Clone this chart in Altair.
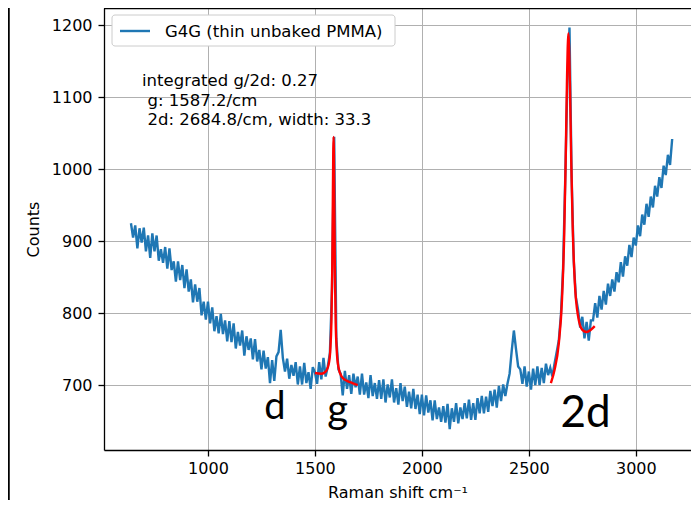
import altair as alt
import pandas as pd

# ---------------- data ----------------
shift = list(range(640, 3171, 10))  # Raman shift (cm^-1) sample positions
counts = [
    925, 905, 922, 890, 918, 898,                              # 640-690
    919, 886, 908, 877, 911, 886, 908, 873, 889, 870,          # 700-790
    892, 862, 890, 860, 872, 844, 872, 846, 867, 835,          # 800-890
    861, 830, 847, 815, 840, 816, 835, 797, 816, 791,          # 900-990
    816, 786, 808, 775, 796, 772, 799, 771, 790, 761,          # 1000-1090
    789, 760, 786, 751, 774, 755, 776, 741, 768, 749,          # 1100-1190
    765, 736, 764, 733, 749, 722, 748, 723, 739, 703,          # 1200-1290
    735, 706, 740, 746, 777, 738, 719, 737, 709, 728,          # 1300-1390
    713, 732, 701, 726, 701, 731, 703, 718, 695, 725,          # 1400-1490
    718, 702, 732, 708, 738, 712, 726, 745, 835, 1045,         # 1500-1590
    765, 722, 716, 686, 720, 695, 714, 688, 716, 697,          # 1600-1690
    712, 687, 716, 687, 704, 682, 714, 685, 703, 681,          # 1700-1790
    707, 681, 708, 676, 701, 683, 708, 676, 696, 673,          # 1800-1890
    703, 678, 698, 670, 691, 668, 695, 667, 687, 660,          # 1900-1990
    687, 658, 686, 662, 679, 651, 679, 653, 669, 649,          # 2000-2090
    671, 648, 674, 639, 668, 649, 675, 647, 669, 653,          # 2100-2190
    675, 654, 680, 652, 675, 652, 682, 661, 685, 661,          # 2200-2290
    684, 663, 692, 671, 694, 669, 699, 678, 701, 685,          # 2300-2390
    702, 716, 748, 776, 750, 726, 722, 702, 726, 698,          # 2400-2490
    719, 694, 723, 700, 726, 700, 724, 703, 730, 714,          # 2500-2590
    724, 712, 730, 746, 762, 798, 862, 985, 1120, 1197,        # 2600-2690
    990, 872, 822, 805, 780, 795, 765, 788, 762, 790,          # 2700-2790
    790, 814, 794, 824, 805, 831, 812, 841, 824, 847,          # 2800-2890
    830, 857, 843, 871, 851, 879, 866, 895, 878, 905,          # 2900-2990
    894, 922, 907, 937, 923, 952, 934, 962, 947, 977,          # 3000-3090
    962, 989, 974, 1005, 992, 1020, 1006, 1042,                # 3100-3170
]
assert len(shift) == len(counts), (len(shift), len(counts))

# red fitted curves
g_fit_shift = [1500, 1530, 1550, 1565, 1572, 1577, 1581, 1584, 1587.2, 1590,
               1593, 1597, 1602, 1610, 1625, 1650, 1675, 1700]
g_fit_counts = [717, 716, 719, 730, 750, 788, 862, 967, 1045, 975,
                867, 788, 748, 725, 712, 706, 703, 700]
d2_fit_shift = [2603, 2620, 2640, 2655, 2665, 2672, 2678, 2684.8, 2692, 2698,
                2705, 2715, 2730, 2750, 2770, 2790, 2808]
d2_fit_counts = [703, 721, 758, 819, 906, 1009, 1119, 1189, 1118, 1014,
                 919, 842, 796, 777, 774, 777, 782]

series_name = "G4G (thin unbaked PMMA)"
x_ticks = [1000, 1500, 2000, 2500, 3000]
y_ticks = [700, 800, 900, 1000, 1100, 1200]
x_domain = [514, 3258]
y_domain = [610, 1224]

info_lines = ["integrated g/2d: 0.27", "g: 1587.2/cm", "2d: 2684.8/cm, width: 33.3"]
info_x = [691.7, 717.4, 717.4]
info_y = [1133.7, 1106.6, 1079.6]

peak_names = ["d", "g", "2d"]
peak_name_x = [1313, 1606, 2765]
peak_name_y = [652.7, 648, 642.5]
peak_name_size = [38, 40, 44]

# ---------------- tables ----------------
spec_df = pd.DataFrame({"shift": shift, "counts": counts, "series": series_name})
fit_df = pd.concat([
    pd.DataFrame({"shift": g_fit_shift, "counts": g_fit_counts, "fit": "g"}),
    pd.DataFrame({"shift": d2_fit_shift, "counts": d2_fit_counts, "fit": "2d"}),
])
info_df = pd.DataFrame({"shift": info_x, "counts": info_y, "label": info_lines})
peak_df = pd.DataFrame({"shift": peak_name_x, "counts": peak_name_y,
                        "label": peak_names, "size": peak_name_size})
legend_df = pd.DataFrame({"label": [series_name]})

FONT = "DejaVu Sans"
W, H = 587, 442
xs = alt.Scale(domain=x_domain, nice=False, zero=False)
ys = alt.Scale(domain=y_domain, nice=False, zero=False)
x_enc = alt.X("shift:Q", scale=xs,
              axis=alt.Axis(values=x_ticks, title="Raman shift cm\u207b\u00b9", format="d",
                            labelPadding=4, titlePadding=8))
y_enc = alt.Y("counts:Q", scale=ys,
              axis=alt.Axis(values=y_ticks, title="Counts", format="d",
                            labelPadding=6, titlePadding=10))

spectrum = alt.Chart(spec_df).mark_line(strokeWidth=2.4).encode(
    x=x_enc, y=y_enc,
    color=alt.Color("series:N", scale=alt.Scale(range=["#1f77b4"]), legend=None),
    order="shift:Q",
)

fits = alt.Chart(fit_df).mark_line(color="#ff0000", strokeWidth=2.4,
                                   interpolate="monotone").encode(
    x=x_enc, y=y_enc, detail="fit:N",
)

info = alt.Chart(info_df).mark_text(align="left", baseline="top", font=FONT,
                                    fontSize=16.5, color="black").encode(
    x=x_enc, y=y_enc, text="label:N",
)

peaks = alt.Chart(peak_df).mark_text(align="center", baseline="alphabetic",
                                     font="Lato", color="black").encode(
    x=x_enc, y=y_enc, text="label:N",
    size=alt.Size("size:Q", scale=None, legend=None),
)

# legend box (drawn like matplotlib's)
legend_box = alt.Chart(legend_df).mark_rect(
    fill="white", stroke="#cccccc", strokeWidth=1, cornerRadius=3
).encode(x=alt.value(8), x2=alt.value(291), y=alt.value(7), y2=alt.value(38))
legend_line = alt.Chart(legend_df).mark_rule(color="#1f77b4", strokeWidth=2.4).encode(
    x=alt.value(16), x2=alt.value(46), y=alt.value(23))
legend_text = alt.Chart(legend_df).mark_text(
    align="left", baseline="middle", font=FONT, fontSize=16.5, color="black"
).encode(x=alt.value(61), y=alt.value(23.5), text="label:N")

top_spine = alt.Chart(legend_df).mark_rule(color="black", strokeWidth=1.3).encode(
    x=alt.value(0), x2=alt.value(W + 20), y=alt.value(0.5))
frame_line = alt.Chart(legend_df).mark_rule(color="black", strokeWidth=2.5).encode(
    x=alt.value(-95.5), y=alt.value(-10), y2=alt.value(H + 80))

chart = alt.layer(
    spectrum, fits, info, peaks, legend_box, legend_line, legend_text,
    top_spine, frame_line
).properties(
    width=W, height=H,
    autosize=alt.AutoSizeParams(type="none"),
    padding={"left": 96, "top": 0, "right": 0, "bottom": 50},
).configure_view(
    stroke=None,
).configure_axis(
    domainColor="black", domainWidth=1.3,
    tickColor="black", tickWidth=1.3, tickSize=6,
    labelFont=FONT, labelFontSize=16, labelColor="black",
    titleFont=FONT, titleFontSize=16, titleFontWeight="normal", titleColor="black",
    gridColor="#b0b0b0", gridWidth=1,
)

chart.save("out.html", embed_options={"renderer": "svg", "actions": False})
